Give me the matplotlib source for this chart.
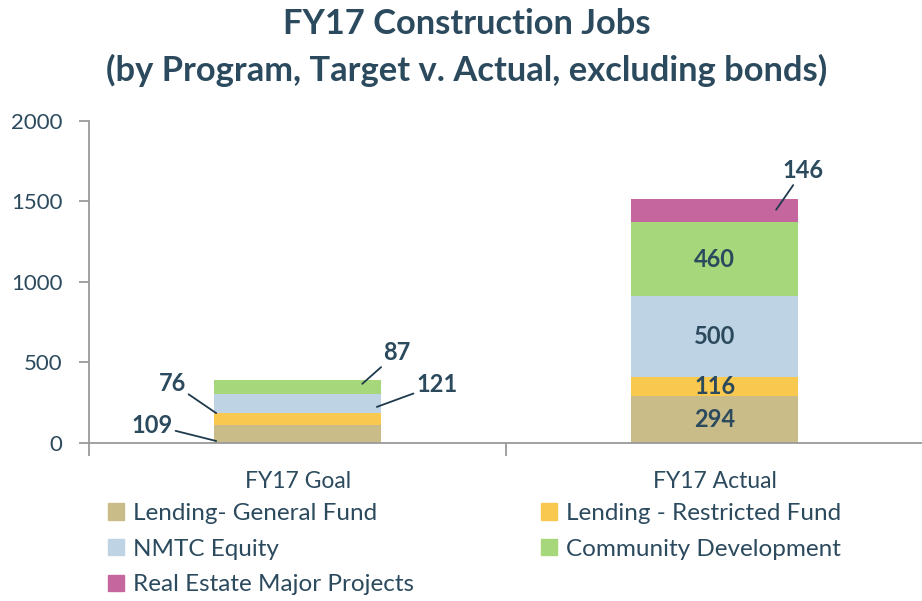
import matplotlib.pyplot as plt
from matplotlib.patches import Patch
import numpy as np

# dane
categories = ["FY17 Goal", "FY17 Actual"]
series_names = ["Lending- General Fund", "Lending - Restricted Fund", "NMTC Equity",
                "Community Development", "Real Estate Major Projects"]
general_fund = [109, 294]
restricted_fund = [76, 116]
nmtc_equity = [121, 500]
community_dev = [87, 460]
real_estate = [0, 146]
y_ticks = [0, 500, 1000, 1500, 2000]
title_lines = ["FY17 Construction Jobs",
               "(by Program, Target v. Actual, excluding bonds)"]

colors = ["#C9BC88", "#F9C94F", "#BED3E4", "#A6D77A", "#C5669E"]
text_col = "#2C4A5E"

plt.rcParams['font.family'] = ['Lato', 'DejaVu Sans']

fig = plt.figure(figsize=(9.22, 6.01), dpi=100)
ax = fig.add_axes([0.0965, 0.263, 0.905, 0.536])

series = [general_fund, restricted_fund, nmtc_equity, community_dev, real_estate]
x = np.arange(len(categories))
w = 0.4
bottom = np.zeros(len(categories))
bottoms = []
for vals, c in zip(series, colors):
    ax.bar(x, vals, w, bottom=bottom, color=c, linewidth=0)
    bottoms.append(bottom.copy())
    bottom = bottom + np.array(vals)

lbl = dict(fontsize=17, fontweight='bold', color=text_col)

# etykiety wewnatrz slupka "Actual"
for i in range(4):
    v = series[i][1]
    ax.text(x[1], bottoms[i][1] + v / 2, str(v), ha='center', va='center', **lbl)

# etykiety z liniami (xy wzgledem slupka, przesuniecie w pikselach)
callouts = [
    # (seria, kategoria, pozycja x w slupku, ulamek wysokosci, dx, dy)
    (0, 0, -0.195, 0.11, -64, 16),
    (1, 0, -0.195, 1.0, -44, 30),
    (2, 0, 0.19, 0.32, 60, 22),
    (3, 0, 0.155, 0.7, 35, 31),
    (4, 1, 0.147, 0.53, 27, 39),
]
for s, k, dxb, frac, dx, dy in callouts:
    v = series[s][k]
    ax.annotate(str(v), xy=(x[k] + dxb, bottoms[s][k] + frac * v),
                xytext=(dx, dy), textcoords='offset pixels',
                ha='center', va='center', **lbl,
                arrowprops=dict(arrowstyle='-', color='#1F3A4D', lw=1.3,
                                shrinkA=0, shrinkB=0))

ax.set_ylim(0, 2000)
ax.set_xlim(-0.5, 1.5)
ax.set_yticks(y_ticks)
ax.set_xticks(x)
ax.set_xticklabels(categories)
ax.set_xticks([-0.5, 0.5, 1.5], minor=True)
ax.tick_params(axis='y', colors='#9A9A9A', labelcolor=text_col, labelsize=16,
               length=7, width=1.3, pad=12)
ax.tick_params(axis='x', which='major', length=0, labelcolor=text_col,
               labelsize=16.5, pad=20)
ax.tick_params(axis='x', which='minor', length=9, width=1.3, colors='#9A9A9A')
for sp in ['top', 'right']:
    ax.spines[sp].set_visible(False)
for sp in ['left', 'bottom']:
    ax.spines[sp].set_color('#9A9A9A')
    ax.spines[sp].set_linewidth(1.3)

# tytul w dwoch liniach
fig.text(0.506, 0.944, title_lines[0], ha='center', va='baseline', fontsize=24.8,
         fontweight='bold', color=text_col)
fig.text(0.506, 0.866, title_lines[1], ha='center', va='baseline', fontsize=24.8,
         fontweight='bold', color=text_col)

order = [0, 2, 4, 1, 3]
handles = [Patch(color=colors[i]) for i in order]
labels = [series_names[i] for i in order]
leg = fig.legend(handles, labels, ncol=2, loc='upper left',
                 bbox_to_anchor=(0.117, 0.163), frameon=False, fontsize=17.5,
                 handlelength=0.65, handleheight=0.65, handletextpad=0.4,
                 columnspacing=5.2, labelspacing=0.6, borderaxespad=0,
                 borderpad=0)
for t in leg.get_texts():
    t.set_color(text_col)

fig.savefig("out.png", dpi=100)
